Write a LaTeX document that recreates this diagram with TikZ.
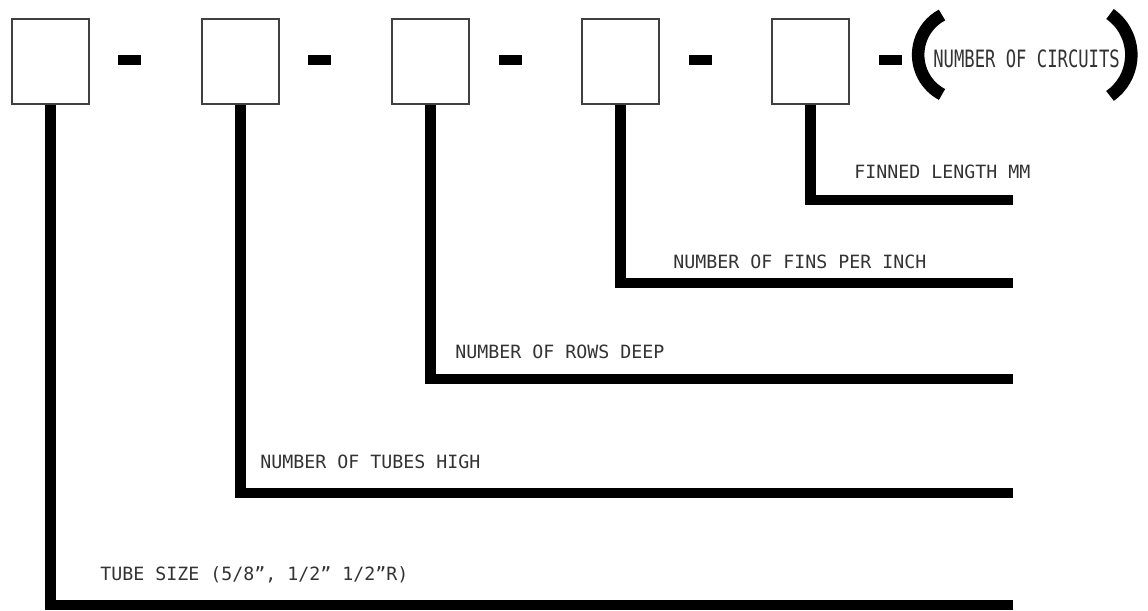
\documentclass[tikz,border=0pt]{standalone}
\usepackage{fontspec}
\setmonofont{DejaVu Sans Mono}
\newfontfamily\circfont{DejaVu Sans Mono}[FakeStretch=0.72]
\usetikzlibrary{positioning,calc}

\begin{document}
\begin{tikzpicture}[x=0.02cm, y=-0.02cm,
    box_style/.style={rectangle, draw=black!75, line width=0.6pt, minimum width=1.54cm, minimum height=1.7cm, inner sep=0pt},
    dash_style/.style={rectangle, fill=black, minimum width=0.46cm, minimum height=0.2cm, inner sep=0pt},
    label_style/.style={anchor=base west, inner sep=0pt, text=black!80, font=\ttfamily\fontsize{10.4pt}{12pt}\selectfont},
    lead_style/.style={draw=black, line width=0.21cm},
    paren_style/.style={draw=black, line width=0.25cm}]

	\useasboundingbox (0,0) rectangle (1148,610);

	\node[box_style] (box1) at (50.5, 61.5) {};
	\node[box_style] (box2) at (240.5, 61.5) {};
	\node[box_style] (box3) at (430.5, 61.5) {};
	\node[box_style] (box4) at (620.5, 61.5) {};
	\node[box_style] (box5) at (810.5, 61.5) {};

	\node[dash_style] (dash1) at (129.5, 60) {};
	\node[dash_style] (dash2) at (319.5, 60) {};
	\node[dash_style] (dash3) at (510, 60) {};
	\node[dash_style] (dash4) at (700, 60) {};
	\node[dash_style] (dash5) at (890.5, 60) {};

	\draw[paren_style] (942, 15) arc[start angle=242, end angle=118, radius=45];
	\draw[paren_style] (1110, 14) arc[start angle=-55, end angle=55, radius=50];
	\node[anchor=base west, inner sep=0pt, text=black!80, font=\circfont\fontsize{13.6pt}{16pt}\selectfont] (circuits) at (933, 67) {NUMBER OF CIRCUITS};

	\coordinate (end5) at (1013, 200);
	\coordinate (end4) at (1013, 283);
	\coordinate (end3) at (1013, 379);
	\coordinate (end2) at (1013, 493);
	\coordinate (end1) at (1013, 605);

	\draw[lead_style] (box5.south) |- (end5);
	\draw[lead_style] (box4.south) |- (end4);
	\draw[lead_style] (box3.south) |- (end3);
	\draw[lead_style] (box2.south) |- (end2);
	\draw[lead_style] (box1.south) |- (end1);

	\node[label_style] (length) at (854, 178) {FINNED LENGTH MM};
	\node[label_style] (fins) at (673, 268) {NUMBER OF FINS PER INCH};
	\node[label_style] (rows) at (455, 358) {NUMBER OF ROWS DEEP};
	\node[label_style] (tubes) at (260, 468) {NUMBER OF TUBES HIGH};
	\node[label_style] (size) at (100, 580) {TUBE SIZE (5/8”, 1/2” 1/2”R)};
\end{tikzpicture}
\end{document}
